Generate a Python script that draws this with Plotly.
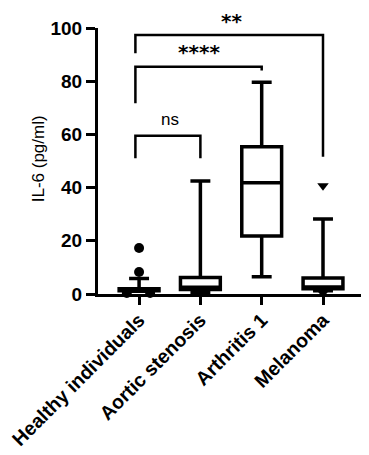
import plotly.graph_objects as go

categories = ["Healthy individuals", "Aortic stenosis", "Arthritis 1", "Melanoma"]
lower_whisker = [1.0, 0.4, 6.5, 1.2]
q1_values = [1.2, 1.7, 21.8, 2.0]
median_values = [1.5, 2.5, 41.8, 2.6]
q3_values = [2.0, 6.2, 55.4, 6.0]
upper_whisker = [5.8, 42.5, 79.6, 28.2]

# outliers
healthy_out_x = [0, 0, -0.2, 0.18]
healthy_out_y = [17.3, 8.3, 0.4, 0.4]
melanoma_out_x = [3, 3]
melanoma_out_y = [40.7, 0.3]

# significance brackets: (left, right, top y, left leg bottom, right leg bottom, label)
brackets = [
    (0, 1, 59.5, 51.0, 51.0, "ns"),
    (0, 2, 85.4, 71.7, 84.0, "****"),
    (0, 3, 97.4, 90.5, 51.6, "**"),
]
label_pos = [(0.5, 65.5), (0.98, 91.0), (1.5, 102.8)]

font_family = "Liberation Sans, Arial, sans-serif"

fig = go.Figure()
for i, c in enumerate(categories):
    fig.add_trace(go.Box(
        x=[i], q1=[q1_values[i]], median=[median_values[i]], q3=[q3_values[i]],
        lowerfence=[lower_whisker[i]], upperfence=[upper_whisker[i]],
        width=0.65, whiskerwidth=0.5, boxpoints=False,
        line=dict(color="black", width=3.5), fillcolor="white",
        showlegend=False, hoverinfo="skip",
    ))

fig.add_trace(go.Scatter(
    x=healthy_out_x, y=healthy_out_y, mode="markers",
    marker=dict(symbol="circle", size=10, color="black"),
    cliponaxis=False, showlegend=False, hoverinfo="skip"))
fig.add_trace(go.Scatter(
    x=melanoma_out_x, y=melanoma_out_y, mode="markers",
    marker=dict(symbol="triangle-down", size=10, color="black"),
    cliponaxis=False, showlegend=False, hoverinfo="skip"))

shapes = []
for (l, r, top, lb, rb, _lab) in brackets:
    shapes.append(dict(
        type="path", xref="x", yref="y",
        path=f"M {l-0.06},{lb} L {l-0.06},{top} L {r},{top} L {r},{rb}",
        line=dict(color="black", width=2.5)))

annotations = []
for (b, (ax, ay)) in zip(brackets, label_pos):
    lab = b[5]
    annotations.append(dict(
        x=ax, y=ay / 100.0, xref="x", yref="paper", text=lab, showarrow=False,
        font=dict(family=font_family if lab == "ns" else "DejaVu Sans, sans-serif",
                  size=17 if lab == "ns" else 20, color="black",
                  weight="normal" if lab == "ns" else "bold"),
        xanchor="center", yanchor="middle"))

annotations.append(dict(
    x=-0.225, y=0.51, xref="paper", yref="paper", text="IL-6 (pg/ml)", showarrow=False,
    textangle=-90, font=dict(family=font_family, size=17, color="black"),
    xanchor="center", yanchor="middle"))

# the page body adds an 8px offset, so the figure is 8px smaller on each axis
fig.update_layout(
    width=361, height=447,
    margin=dict(l=90, r=4, t=20, b=161, pad=0, autoexpand=False),
    paper_bgcolor="white", plot_bgcolor="white",
    shapes=shapes, annotations=annotations,
    xaxis=dict(
        range=[-0.67, 3.685], tickmode="array", tickvals=list(range(len(categories))),
        ticktext=categories, tickangle=-45, ticks="outside", ticklen=8, tickwidth=3,
        tickcolor="black", showline=True, linewidth=3, linecolor="black",
        showgrid=False, zeroline=False, automargin=False,
        ticklabeloverflow="allow", ticklabelstandoff=-4,
        tickfont=dict(family=font_family, size=19.5, color="black", weight="bold")),
    yaxis=dict(
        range=[0, 100], tickmode="array", tickvals=[0, 20, 40, 60, 80, 100],
        ticks="outside", ticklen=9, tickwidth=3, tickcolor="black",
        showline=True, linewidth=3, linecolor="black",
        showgrid=False, zeroline=False, automargin=False,
        tickfont=dict(family=font_family, size=19, color="black", weight="bold")),
)

fig.write_html("out.html")
